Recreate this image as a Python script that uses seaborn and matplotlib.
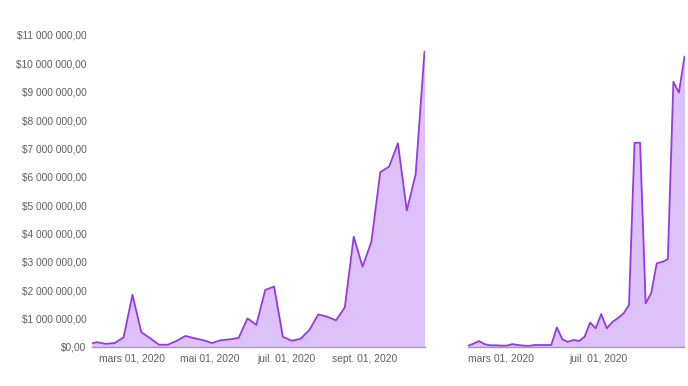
import matplotlib
matplotlib.use("Agg")
import matplotlib.pyplot as plt
import matplotlib.ticker as mticker
import numpy as np
import pandas as pd
import seaborn as sns

# ---------------- data ----------------
left_dates = ["2020-01-29"] + list(pd.date_range("2020-02-02", "2020-10-18", freq="7D").strftime("%Y-%m-%d"))
left_values = [0.13, 0.17, 0.11, 0.14, 0.34, 1.84, 0.52, 0.31, 0.08, 0.08,
               0.22, 0.39, 0.31, 0.24, 0.14, 0.24, 0.27, 0.32, 1.01, 0.78,
               2.01, 2.13, 0.36, 0.22, 0.29, 0.60, 1.15, 1.07, 0.94, 1.40,
               3.89, 2.83, 3.71, 6.16, 6.36, 7.18, 4.81, 6.09, 10.41]  # millions $

right_dates = list(pd.date_range("2020-01-19", "2020-10-18", freq="7D").strftime("%Y-%m-%d"))
right_values = [0.04, 0.12, 0.21, 0.10, 0.06, 0.06, 0.05, 0.05, 0.10, 0.07,
                0.05, 0.04, 0.07, 0.07, 0.07, 0.07, 0.69, 0.27, 0.18, 0.25,
                0.21, 0.36, 0.86, 0.66, 1.16, 0.66, 0.88, 1.02, 1.18, 1.48,
                7.20, 7.20, 1.54, 1.90, 2.95, 3.00, 3.10, 9.35, 8.97, 10.24]  # millions $

left_tick_dates = ["2020-03-01", "2020-05-01", "2020-07-01", "2020-09-01"]
left_tick_labels = ["mars 01, 2020", "mai 01, 2020", "juil. 01, 2020", "sept. 01, 2020"]
right_tick_dates = ["2020-03-01", "2020-07-01"]
right_tick_labels = ["mars 01, 2020", "juil. 01, 2020"]

y_ticks_millions = list(range(0, 12))

# ---------------- style ----------------
sns.set_theme(style="white")
plt.rcParams["font.family"] = ["Liberation Sans", "DejaVu Sans"]

LINE = "#9639e4"
FILL = "#dcc2f8"
TEXT = "#5f5f5f"
BASE = "#9e9e9e"

W, H = 688, 386
fig = plt.figure(figsize=(W / 100, H / 100), dpi=100)

y0_px, ytop_px = 347, 35
axes_specs = [
    (92, 424.5),
    (468, 684.5),
]

def money(v, pos):
    s = f"${v:,.2f}"
    return s.replace(",", " ").replace(".", ",")

series = [
    (left_dates, left_values, left_tick_dates, left_tick_labels, True),
    (right_dates, right_values, right_tick_dates, right_tick_labels, False),
]

for (x0, x1), (dates, vals, tdates, tlabels, show_y) in zip(axes_specs, series):
    ax = fig.add_axes([x0 / W, (H - y0_px) / H, (x1 - x0) / W, (y0_px - ytop_px) / H])
    df = pd.DataFrame({"date": pd.to_datetime(dates), "value": np.array(vals) * 1e6})
    ax.fill_between(df["date"], 0, df["value"], color=FILL, linewidth=0, zorder=1)
    sns.lineplot(data=df, x="date", y="value", ax=ax, color=LINE, linewidth=1.3, zorder=3)
    ax.set_xlim(df["date"].iloc[0], df["date"].iloc[-1])
    ax.set_ylim(0, 11e6)
    ax.set_xlabel("")
    ax.set_ylabel("")
    for s in ["top", "right", "left"]:
        ax.spines[s].set_visible(False)
    ax.spines["bottom"].set_color(BASE)
    ax.spines["bottom"].set_linewidth(1.0)
    ax.spines["bottom"].set_zorder(4)
    ax.set_xticks(pd.to_datetime(tdates))
    ax.set_xticklabels(tlabels)
    ax.tick_params(axis="x", length=0, pad=5, labelsize=7.4, labelcolor=TEXT)
    if show_y:
        ax.set_yticks([m * 1e6 for m in y_ticks_millions])
        ax.yaxis.set_major_formatter(mticker.FuncFormatter(money))
        ax.tick_params(axis="y", length=0, pad=4, labelsize=7.3, labelcolor=TEXT)
    else:
        ax.set_yticks([])
    ax.grid(False)
    ax.set_facecolor("none")

fig.savefig("out.png", dpi=100)
